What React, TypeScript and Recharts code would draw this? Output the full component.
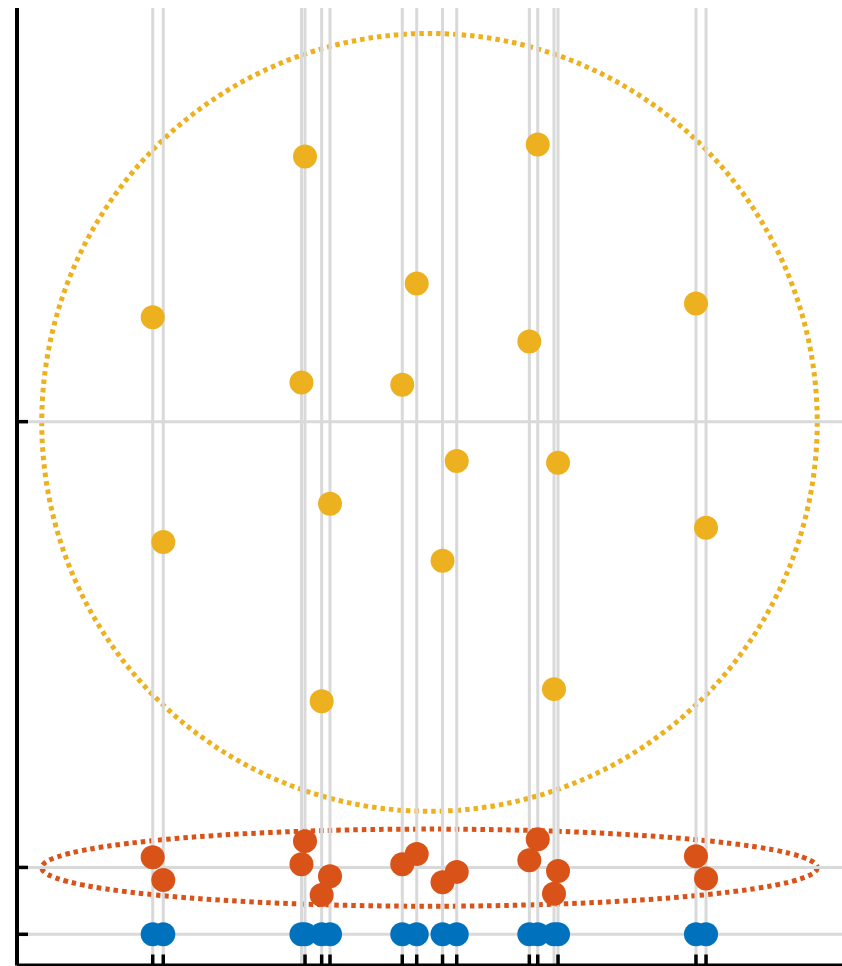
import React from 'react';
import {
  ScatterChart,
  Scatter,
  XAxis,
  YAxis,
  ReferenceArea,
  ReferenceLine,
} from 'recharts';

// x positions shared by all three groups
const xValues = [
  16.45, 17.73, 34.48, 34.91, 36.93, 37.94, 46.7, 48.45,
  51.58, 53.3, 62.1, 63.12, 65.09, 65.58, 82.3, 83.52,
];

const blueValues = [0, 0, 0, 0, 0, 0, 0, 0, 0, 0, 0, 0, 0, 0, 0, 0];
const redValues = [
  17.3, 12.2, 15.7, 20.9, 8.8, 13.0, 15.7, 18.0,
  11.7, 14.0, 16.6, 21.3, 9.1, 14.2, 17.5, 12.5,
];
const yellowValues = [
  138.4, 88.0, 123.8, 174.5, 52.3, 96.6, 123.3, 146.0,
  83.8, 106.2, 133.0, 177.2, 55.0, 105.8, 141.5, 91.2,
];

const yTicks = [0, 15, 115];

// bounding boxes of the dotted ellipses [x1, x2, y1, y2]
const yellowEllipse = [3.0, 97.0, 27.6, 202.1];
const redEllipse = [3.0, 97.0, 6.3, 23.6];

const COLORS = { blue: '#0072BD', red: '#D95319', yellow: '#EDB120', grid: '#d9d9d9' };

const toPoints = (ys: number[]) => xValues.map((x, i) => ({ x, y: ys[i] }));

const blueData = toPoints(blueValues);
const redData = toPoints(redValues);
const yellowData = toPoints(yellowValues);

const dot = (color: string) => (props: any) => (
  <circle cx={props.cx} cy={props.cy} r={12} fill={color} />
);

const ellipse = (color: string) => (props: any) => {
  const { x, y, width, height } = props;
  return (
    <ellipse
      cx={x + width / 2}
      cy={y + height / 2}
      rx={Math.abs(width) / 2}
      ry={Math.abs(height) / 2}
      fill="none"
      stroke={color}
      strokeWidth={5}
      strokeDasharray="4.5 4"
    />
  );
};

export default function App() {
  return (
    <div style={{ position: 'absolute', left: 0, top: 0, width: 842, height: 966 }}>
      <ScatterChart
        width={842}
        height={966}
        margin={{ top: 8, right: 0, left: 17, bottom: 0.5 }}
      >
        {xValues.map((v) => (
          <ReferenceLine key={'vx' + v} x={v} stroke={COLORS.grid} strokeWidth={3} />
        ))}
        {yTicks.map((v) => (
          <ReferenceLine key={'hy' + v} y={v} stroke={COLORS.grid} strokeWidth={3} />
        ))}
        <ReferenceArea
          x1={yellowEllipse[0]}
          x2={yellowEllipse[1]}
          y1={yellowEllipse[2]}
          y2={yellowEllipse[3]}
          shape={ellipse(COLORS.yellow)}
        />
        <ReferenceArea
          x1={redEllipse[0]}
          x2={redEllipse[1]}
          y1={redEllipse[2]}
          y2={redEllipse[3]}
          shape={ellipse(COLORS.red)}
        />
        <Scatter data={yellowData} shape={dot(COLORS.yellow)} isAnimationActive={false} />
        <Scatter data={redData} shape={dot(COLORS.red)} isAnimationActive={false} />
        <Scatter data={blueData} shape={dot(COLORS.blue)} isAnimationActive={false} />
        <XAxis
          type="number"
          dataKey="x"
          domain={[0, 100]}
          ticks={xValues}
          tickFormatter={() => ''}
          mirror
          height={1}
          tickSize={11}
          axisLine={{ stroke: '#000', strokeWidth: 4 }}
          tickLine={{ stroke: '#000', strokeWidth: 3.5 }}
        />
        <YAxis
          type="number"
          dataKey="y"
          domain={[-7, 207.8]}
          ticks={yTicks}
          tickFormatter={() => ''}
          mirror
          width={1}
          tickSize={11}
          axisLine={{ stroke: '#000', strokeWidth: 4 }}
          tickLine={{ stroke: '#000', strokeWidth: 3.5 }}
        />
      </ScatterChart>
    </div>
  );
}
